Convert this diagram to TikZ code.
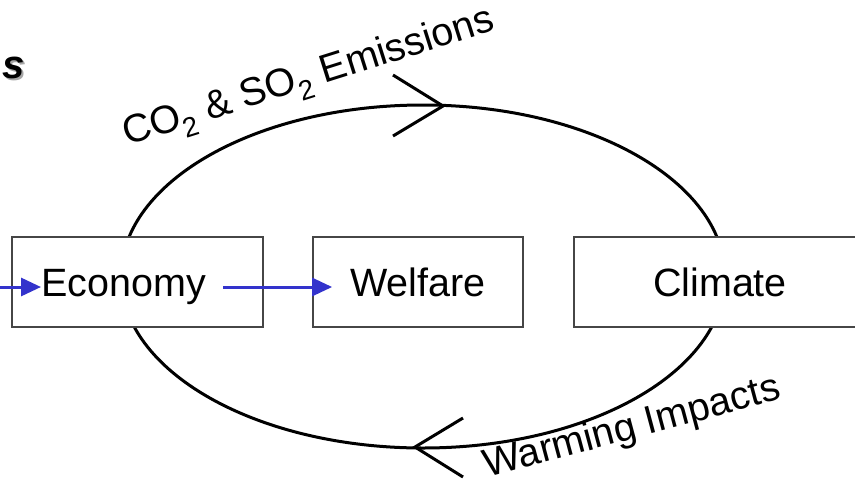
\documentclass[tikz,border=0pt]{standalone}
\usepackage{fontspec}
\setmainfont{Liberation Sans}
\usetikzlibrary{arrows.meta,positioning}
\definecolor{flowblue}{RGB}{51,51,204}
\definecolor{boxgray}{RGB}{70,70,70}
\tikzset{
  block/.style={rectangle,draw=boxgray,line width=1.2pt,fill=white,minimum height=90pt,inner sep=0pt},
  word/.style={inner sep=0pt,font=\fontsize{39.5}{47}\selectfont,text height=29pt,text depth=8pt},
  flow/.style={draw=flowblue,line width=3pt,-{Triangle[length=20pt,width=18pt]}},
  ring/.style={draw,line width=3pt},
  headline/.style={inner sep=0pt,anchor=base east,font=\fontsize{40}{48}\selectfont\bfseries\itshape}
}

\begin{document}
\begin{tikzpicture}[x=1pt,y=-1pt]
  \useasboundingbox (0,0) rectangle (855,483);

  % title, cut off at the left edge
  \node[headline,text=black!35] at (27,80) {s};
  \node[headline] (title) at (25,78) {s};

  % the loop between economy and climate
  \draw[ring] (423,276.5) ellipse [x radius=302pt, y radius=171.5pt];
  \draw[ring] (393,75) -- (443,106) -- (393,136);
  \draw[ring] (463,418) -- (415,447) -- (463,477);

  \node[block,minimum width=251pt] (econbox) at (137.5,282) {};
  \node[block,minimum width=210pt] (welfbox) at (418,282) {};
  \node[block,minimum width=292pt] (climbox) at (720,282) {};

  \node[word,anchor=base west] (econ) at (41,296) {Economy};
  \node[word,anchor=base] (welf) at (418,296) {Welfare};
  \node[word,anchor=base] (clim) at (720,296) {Climate};

  \node[word,anchor=base west,rotate=17.5] (emis) at (127,146) {CO\textsubscript{2} \& SO\textsubscript{2} Emissions};
  \node[word,anchor=base west,rotate=15] (impact) at (487,478) {Warming Impacts};

  \coordinate (feed) at (-10,287);
  \draw[flow] (feed) -- (feed -| econ.west);
  \draw[flow,shorten <=17pt,shorten >=18pt] (econ.east |- feed) -- (welf.west |- feed);
\end{tikzpicture}
\end{document}
